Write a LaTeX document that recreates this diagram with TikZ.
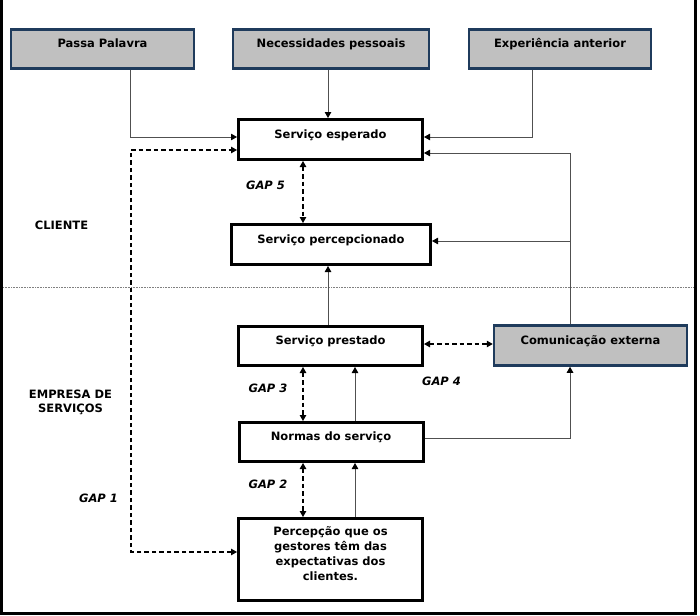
\documentclass[tikz,border=0pt]{standalone}
\usepackage{fontspec}
\setmainfont{DejaVu Sans}
\usetikzlibrary{arrows.meta}
\definecolor{boxgrey}{HTML}{C0C0C0}
\definecolor{boxblue}{HTML}{1F3B5C}
\definecolor{linegrey}{HTML}{505050}
\begin{document}
\begin{tikzpicture}[x=1pt,y=-1pt,
  font=\fontsize{11.5}{14}\selectfont\bfseries,
  gbox/.style={draw=boxblue, fill=boxgrey, line width=2.5pt, inner sep=0pt},
  wbox/.style={draw=black, fill=white, line width=3pt, inner sep=0pt},
  txt/.style={inner sep=0pt, anchor=base},
  gaplabel/.style={inner sep=0pt, anchor=base, font=\fontsize{11.5}{14}\selectfont\bfseries\itshape},
  conn/.style={draw=linegrey, line width=1pt, -{Triangle[length=6pt,width=6.5pt,color=black]}},
  gapl/.style={draw=black, line width=1.1pt, dash pattern=on 4.5pt off 3pt,
     {Triangle[length=6pt,width=6.5pt]}-{Triangle[length=6pt,width=6.5pt]}}
]
\useasboundingbox (0,0) rectangle (700,615);
% frame
\draw[line width=3pt] (1.5,0) -- (1.5,613.5) -- (695,613.5) -- (695,0);
% dotted separator
\draw[draw=gray, line width=0.6pt, dash pattern=on 0.8pt off 0.8pt] (3,287.5) -- (693,287.5);

% top grey boxes
\node[gbox, minimum width=183, minimum height=39] (pp) at (102.5,49) {};
\node[txt] (ppt) at ([yshift=1.5pt]pp.center) {Passa Palavra};
\node[gbox, minimum width=196, minimum height=39] (np) at (331,49) {};
\node[txt] (npt) at ([yshift=1.5pt]np.center) {Necessidades pessoais};
\node[gbox, minimum width=182, minimum height=39] (ea) at (560,49) {};
\node[txt] (eat) at ([yshift=1.5pt]ea.center) {Experiência anterior};

% white boxes
\node[wbox, minimum width=184, minimum height=40] (se) at (330.5,139.5) {};
\node[txt] (set) at ([yshift=1.5pt]se.center) {Serviço esperado};
\node[wbox, minimum width=199, minimum height=40] (sp) at (331,244.5) {};
\node[txt] (spt) at ([yshift=1.5pt]sp.center) {Serviço percepcionado};
\node[wbox, minimum width=184, minimum height=39] (pr) at (330.5,346) {};
\node[txt] (prt) at ([yshift=1.5pt]pr.center) {Serviço prestado};
\node[wbox, minimum width=184, minimum height=39] (ns) at (331,442) {};
\node[txt] (nst) at ([yshift=1.5pt]ns.center) {Normas do serviço};
\node[wbox, minimum width=184, minimum height=82] (pg) at (330.5,559.5) {};
\node[inner sep=0pt, anchor=north, align=center, font=\fontsize{11.5}{15}\selectfont\bfseries] (pgt) at (330.5,526.5)
  {Percepção que os\\gestores têm das\\expectativas dos\\clientes.};

\node[gbox, minimum width=193, minimum height=40] (ce) at (590.5,345.5) {};
\node[txt] (cet) at ([yshift=1.5pt]ce.center) {Comunicação externa};

% side labels
\node[txt] (cl) at (61.5,229) {CLIENTE};
\node[inner sep=0pt, anchor=north, align=center] (emp) at (70.5,389.5) {EMPRESA DE\\SERVIÇOS};

% gap labels
\node[gaplabel] (g5) at (265.5,189) {GAP 5};
\node[gaplabel] (g3) at (268,392) {GAP 3};
\node[gaplabel] (g4) at (441.5,385) {GAP 4};
\node[gaplabel] (g2) at (268,488) {GAP 2};
\node[gaplabel] (g1) at (98.5,502) {GAP 1};

% solid connectors
\draw[conn] (pp.south -| 130,0) |- (se.west |- 0,137);
\draw[conn] (np.south -| 328,0) -- (se.north -| 328,0);
\draw[conn] (ea.south -| 532,0) |- (se.east |- 0,137);
\draw[conn] (ce.north -| 570,0) |- (se.east |- 0,153);
\coordinate (j1) at (570,241);
\draw[conn] (j1) -- (sp.east |- j1);
\draw[conn] (pr.north -| 328,0) -- (sp.south -| 328,0);
\draw[conn] (ns.east |- 0,438) -| (ce.south -| 570,0);
\draw[conn] (ns.north -| 355,0) -- (pr.south -| 355,0);
\draw[conn] (pg.north -| 355,0) -- (ns.south -| 355,0);

% gap connectors
\draw[gapl] (se.south -| 303,0) -- (sp.north -| 303,0);
\draw[gapl] (pr.south -| 303,0) -- (ns.north -| 303,0);
\draw[gapl] (ns.south -| 303,0) -- (pg.north -| 303,0);
\draw[gapl] (pr.east |- 0,344) -- (ce.west |- 0,344);
\coordinate (gc) at (131,150);
\draw[gapl] (pg.west |- 0,552) -| (gc) -- (se.west |- gc);
\end{tikzpicture}
\end{document}
